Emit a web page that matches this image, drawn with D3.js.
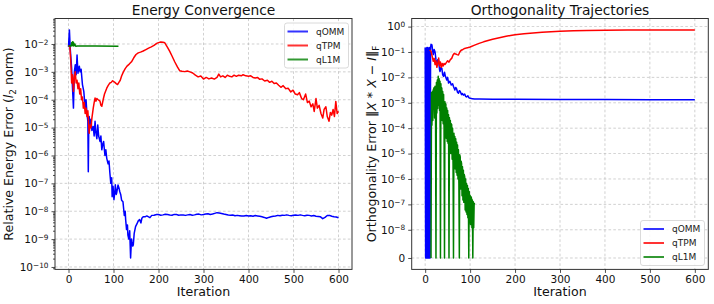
<!DOCTYPE html>
<meta charset="utf-8">
<style>
body { margin: 0; background: #fff; font-family: "DejaVu Sans", sans-serif; }
.grid line { stroke: #b8b8b8; stroke-width: 0.8; stroke-dasharray: 2.6,2.2; opacity: 0.8; }
.axis path { display: none; }
.axis line { stroke: #222; stroke-width: 0.8; }
.axis text { fill: #111; font-size: 10.5px; font-family: "DejaVu Sans"; }
.frame { fill: none; stroke: #333; stroke-width: 1; }
.series { fill: none; stroke-width: 1.5; stroke-linejoin: round; }
.title { font-size: 13.8px; fill: #111; text-anchor: middle; }
.label { font-size: 12.6px; fill: #111; text-anchor: middle; }
.legend text { font-size: 9px; fill: #222; }
</style>
<body>
<svg width="714" height="304"></svg>

<script src="https://d3js.org/d3.v7.min.js"></script>
<script>

// ---- data ----
var iterTicks = [0, 100, 200, 300, 400, 500, 600];
var energyTicks = [1e-10, 1e-9, 1e-8, 1e-7, 1e-6, 1e-5, 1e-4, 1e-3, 1e-2];
var orthoTicks = [0, 1e-8, 1e-7, 1e-6, 1e-5, 1e-4, 1e-3, 1e-2, 1e-1, 1];
var seriesNames = ["qOMM", "qTPM", "qL1M"];
var seriesColors = ["#0000ff", "#ff0000", "#008000"];

// left panel: relative energy error
var energyOMM = [[0,7.9e-3],[2,3.2e-2],[4,6.3e-3],[7,1.35e-3],[9,2.5e-4],[11,5e-5],[13,1e-3],[15,1.8e-3],
  [17,7.9e-4],[19,4e-3],[21,8.9e-4],[24,1.6e-3],[26,1e-3],[28,1.25e-3],[31,3.5e-4],[34,2e-4],[37,5e-5],
  [39,1e-4],[41,3.2e-5],[43,1.7e-5],[44,2.6e-7],[45,1e-5],[46,2.5e-5],[48,1e-5],[50,2e-5],[52,7.9e-6],
  [55,1.1e-5],[57,5e-6],[59,1.7e-5],[61,6.3e-6],[63,4e-6],[65,1.25e-5],[67,5e-6],[70,3.2e-6],[72,5e-6],
  [74,1.6e-6],[76,2.5e-6],[78,3.2e-6],[81,1e-6],[83,1.6e-6],[85,7.9e-7],[88,5e-7],[90,6.3e-7],[92,2.3e-7],
  [94,1e-7],[96,1.6e-7],[97,3.3e-8],[99,7.9e-8],[101,2.6e-8],[103,5e-8],[104,8.9e-8],[106,4e-8],[107,4.5e-8],
  [110,8.7e-8],[112,7e-8],[114,5e-8],[116,4e-8],[118,2.5e-8],[121,2.2e-8],[124,7e-9],[126,1e-8],[127,5e-9],
  [129,2.2e-9],[131,3.2e-9],[132,1.4e-9],[134,1e-9],[136,2e-9],[138,2.1e-10],[140,1e-9],[141,7.9e-10],
  [143,5.6e-10],[144,6.3e-10],[146,1.6e-9],[149,2.8e-9],[152,3.5e-9],[155,4.5e-9],[158,5e-9],[161,3.8e-9],
  [163,5.6e-9],[166,6.3e-9],[170,6.3e-9],[174,6.8e-9],[178,6.3e-9],[181,5.9e-9],[185,7.1e-9],[190,7.2e-9],
  [196,7.6e-9],[200,7.6e-9],[205,7.2e-9],[210,7.4e-9],[215,7.8e-9],[220,7.6e-9],[225,7.3e-9],[230,7.2e-9],
  [235,7.7e-9],[240,7.6e-9],[245,7.2e-9],[250,7.4e-9],[255,7.3e-9],[260,7.1e-9],[265,7.4e-9],[270,7.6e-9],
  [275,7.2e-9],[280,7.4e-9],[285,7.8e-9],[290,7.9e-9],[295,7.4e-9],[300,7.6e-9],[305,7.9e-9],[310,8.1e-9],
  [315,7.6e-9],[320,7.9e-9],[325,8.4e-9],[330,8.9e-9],[335,8.6e-9],[340,8.3e-9],[345,7.9e-9],[350,7.6e-9],
  [355,7.3e-9],[360,7.2e-9],[365,7.3e-9],[370,6.9e-9],[375,7.1e-9],[380,6.9e-9],[385,6.7e-9],[390,6.8e-9],
  [395,7e-9],[400,6.8e-9],[405,6.9e-9],[410,6.6e-9],[415,7e-9],[420,6.8e-9],[425,6.6e-9],[430,6.3e-9],
  [435,6e-9],[440,5.6e-9],[445,6e-9],[450,6.3e-9],[455,6.6e-9],[460,6.8e-9],[465,7.1e-9],[470,6.9e-9],
  [475,7.2e-9],[480,7.1e-9],[485,7.4e-9],[490,7.1e-9],[495,6.9e-9],[500,7.2e-9],[505,7.3e-9],[510,7.1e-9],
  [515,7.4e-9],[520,7.1e-9],[525,6.9e-9],[530,7.2e-9],[535,7.1e-9],[540,6.8e-9],[545,7e-9],[550,6.6e-9],
  [555,6.5e-9],[560,6.3e-9],[565,5.4e-9],[570,6e-9],[575,7e-9],[580,7.1e-9],[585,6.6e-9],[590,6.3e-9],
  [595,6.2e-9],[600,5.8e-9]];

var energyTPM = [[0,8.9e-3],[3,7.9e-3],[5,2.5e-3],[7,4e-4],[9,7.9e-4],[11,2e-4],[13,6.3e-4],[15,1e-3],
  [17,4e-4],[19,5e-4],[21,2.5e-4],[23,4e-4],[25,1.6e-4],[27,2.5e-4],[29,1e-4],[31,1.25e-4],[33,5e-5],
  [35,7.9e-5],[37,3.2e-5],[39,5e-5],[41,2.5e-5],[43,4e-5],[46,6.3e-6],[48,1.25e-5],[50,1e-5],[52,2.2e-5],
  [55,5e-5],[57,7.9e-5],[59,1.15e-4],[61,8.9e-5],[63,1.1e-4],[66,1e-4],[70,8.9e-5],[72,6.3e-5],[74,5.8e-5],
  [77,1e-4],[80,1.6e-4],[85,2.6e-4],[88,3.2e-4],[92,4e-4],[95,4.2e-4],[98,4.8e-4],[103,4.2e-4],[106,3.8e-4],
  [109,3.5e-4],[112,4.2e-4],[115,5e-4],[118,7.1e-4],[122,1e-3],[126,1.3e-3],[130,1.6e-3],[135,1.9e-3],
  [140,2.3e-3],[145,3.2e-3],[150,4.2e-3],[155,4.8e-3],[160,5.1e-3],[166,5.6e-3],[172,6.3e-3],[178,7.1e-3],
  [184,7.9e-3],[190,8.9e-3],[196,1.05e-2],[200,1.12e-2],[205,1.17e-2],[210,1.15e-2],[214,1.1e-2],[220,7.6e-3],
  [225,5.4e-3],[230,3.7e-3],[236,2.3e-3],[242,1.5e-3],[247,1.1e-3],[252,1.05e-3],[258,1.02e-3],[264,1.07e-3],
  [270,1e-3],[276,9.1e-4],[282,7.6e-4],[288,6.6e-4],[294,7.1e-4],[300,5.5e-4],[306,6.3e-4],[312,5.6e-4],
  [318,6e-4],[324,5.5e-4],[330,6.3e-4],[334,8.3e-4],[338,6.6e-4],[343,7.2e-4],[348,6.3e-4],[353,7.6e-4],
  [358,6.9e-4],[363,6.6e-4],[368,7.6e-4],[373,6.9e-4],[378,7.6e-4],[384,7.2e-4],[388,7.9e-4],[394,7.2e-4],
  [400,6.9e-4],[405,7.2e-4],[410,6.3e-4],[415,6e-4],[420,6.3e-4],[425,5.4e-4],[430,5.6e-4],[436,4.7e-4],
  [442,5e-4],[447,4.2e-4],[452,4.6e-4],[457,3.8e-4],[462,4e-4],[467,3.3e-4],[472,2.8e-4],[477,3.2e-4],
  [483,2.5e-4],[488,2.6e-4],[494,1.9e-4],[499,2.2e-4],[504,1.6e-4],[509,1.5e-4],[513,1.8e-4],[518,1.1e-4],
  [522,1e-4],[527,1.6e-4],[531,7.9e-5],[535,8.9e-5],[539,5.6e-5],[543,7.1e-5],[546,3.8e-5],[550,1.1e-4],
  [553,5e-5],[557,6.3e-5],[561,3.2e-5],[565,2.2e-5],[568,4.5e-5],[572,5.6e-5],[575,2.5e-5],[579,1.7e-5],
  [582,3.5e-5],[585,2.8e-5],[588,4.5e-5],[591,2.5e-5],[594,8.7e-5],[597,3.2e-5],[600,3.8e-5]];

var energyL1M = [[0,8.5e-3],[6,8.5e-3],[7,1.1e-2],[8,8.9e-3],[9,1.2e-2],[10,8.7e-3],[11,1.15e-2],[12,8.5e-3],
  [14,1e-2],[16,8.3e-3],[20,8.5e-3],[60,8.4e-3],[111,8.3e-3]];

// right panel: orthogonality error
var orthoOMM = [[0,0.15],[1,0],[2,0.14],[3,0],[4,0.15],[5,0],[6,0.15],[7,0],[8,0.14],[9,0],[10,0.15],[11,0],
  [12,0.15],[13,0.2],[15,0.19],[17,0.1],[18,0.079],[20,0.126],[22,0.1],[24,0.05],[26,0.032],[28,0.05],
  [30,0.045],[32,0.02],[33,0.017],[35,0.025],[37,0.023],[39,0.0126],[41,0.011],[43,0.016],[45,0.011],
  [48,0.0079],[50,0.01],[52,0.006],[55,0.007],[58,0.005],[61,0.0056],[63,0.0044],[66,0.0032],[68,0.004],
  [70,0.0035],[72,0.0026],[74,0.0024],[76,0.003],[78,0.0028],[81,0.0021],[83,0.0023],[85,0.002],[88,0.0022],
  [90,0.0018],[92,0.0017],[95,0.0019],[97,0.0016],[100,0.0015],[105,0.00145],[110,0.0014],[120,0.0014],
  [150,0.00138],[200,0.00138],[300,0.00135],[400,0.00135],[500,0.00132],[600,0.00132]];

var orthoTPM = [[10,0.12],[13,0.107],[16,0.063],[18,0.043],[20,0.056],[22,0.032],[24,0.045],[26,0.025],
  [28,0.035],[30,0.058],[32,0.028],[34,0.04],[36,0.025],[38,0.035],[40,0.028],[42,0.035],[44,0.032],
  [47,0.038],[50,0.045],[53,0.04],[56,0.05],[59,0.056],[62,0.076],[65,0.089],[68,0.083],[71,0.079],
  [74,0.076],[77,0.1],[80,0.117],[84,0.126],[88,0.138],[92,0.145],[96,0.15],[100,0.158],[110,0.186],
  [120,0.219],[130,0.251],[140,0.282],[150,0.316],[160,0.347],[170,0.38],[180,0.417],[190,0.447],
  [200,0.479],[220,0.525],[240,0.562],[260,0.603],[280,0.631],[300,0.661],[330,0.692],[360,0.708],
  [400,0.724],[450,0.741],[500,0.741],[550,0.741],[600,0.741]];

var orthoL1M = [[13,0],[14,2.5e-3],[15,1.3e-4],[16,2.8e-3],[17,2e-4],[18,3.2e-3],[20,4e-3],[21,2.5e-4],
  [22,4.5e-3],[23,1e-3],[24,0],[25,6.3e-3],[26,4e-4],[27,7.9e-3],[28,6e-4],[29,1.1e-2],[30,8e-4],
  [31,8.9e-3],[32,5e-4],[33,7.1e-3],[34,0],[35,5.6e-3],[36,2.5e-4],[37,3.8e-3],[38,2e-4],[39,2.8e-3],
  [40,1.5e-4],[41,2.1e-3],[42,1e-4],[43,0],[44,1.1e-3],[45,6e-5],[46,8.9e-4],[47,4e-5],[48,6.3e-4],
  [49,3e-5],[50,5e-4],[51,2.5e-5],[52,3.4e-4],[53,0],[54,2.6e-4],[55,1.3e-5],[56,2e-4],[57,1e-5],
  [58,1.5e-4],[59,1.35e-4],[60,6e-6],[61,1e-4],[62,4e-6],[63,0],[64,6.3e-5],[65,3e-6],[66,4.7e-5],
  [67,2.5e-6],[68,3.8e-5],[69,1.8e-6],[70,2.8e-5],[71,1.4e-6],[72,2.2e-5],[73,1e-6],[74,1.4e-5],
  [75,7e-7],[76,0],[77,8.9e-6],[78,7.4e-6],[79,4e-7],[80,5e-6],[81,4e-6],[82,2.2e-7],[83,3e-6],
  [84,1.5e-7],[85,2.2e-6],[86,1.2e-7],[87,1.5e-6],[88,1.2e-6],[89,6e-8],[90,1e-6],[91,5e-8],[92,6.6e-7],
  [93,4e-8],[94,5.6e-7],[95,3e-8],[96,4.2e-7],[97,0],[98,3.2e-7],[99,2e-8],[100,2.3e-7],[101,1.6e-8],
  [102,2e-7],[103,1.8e-7],[104,1.2e-8],[105,1.5e-7],[106,0],[107,1.26e-7],[108,1.2e-8],[109,1.1e-7],
  [110,1e-7]];

var energySeries = [energyOMM, energyTPM, energyL1M];
var orthoSeries = [orthoOMM, orthoTPM, orthoL1M];

// ---- layout ----
var svg = d3.select("svg");
var plotTop = 18.5, plotBottom = 269.4;
var left = {x0: 55, x1: 352}, right = {x0: 411.7, x1: 708.3};

// matplotlib-like symlog (linthresh 1e-8, linscale 1), in "decade" units
var linthresh = 1e-8, linscaleAdj = 1 / (1 - 1 / 10);
function symlog(v) {
    var a = Math.abs(v);
    var t = a <= linthresh ? a / linthresh * linscaleAdj : linscaleAdj + Math.log10(a / linthresh);
    return v < 0 ? -t : t;
}

function padExtent(e, p) {
    if (p === undefined) p = 0.05;
    var d = (e[1] - e[0]) * p;
    return [e[0] - d, e[1] + d];
}

var allIters = energySeries.concat(orthoSeries).flat().map(function (d) { return d[0]; });
var xDomain = padExtent(d3.extent(allIters));

var xL = d3.scaleLinear().domain(xDomain).range([left.x0, left.x1]);
var xR = d3.scaleLinear().domain(xDomain).range([right.x0, right.x1]);

var eLog = padExtent(d3.extent(energySeries.flat(), function (d) { return Math.log10(d[1]); }));
var yL = d3.scaleLog().domain([Math.pow(10, eLog[0]), Math.pow(10, eLog[1])]).range([plotBottom, plotTop]);

var oSym = padExtent(d3.extent(orthoSeries.flat(), function (d) { return symlog(d[1]); }));
var yRlin = d3.scaleLinear().domain(oSym).range([plotBottom, plotTop]);
function yR(v) { return yRlin(symlog(v)); }

function expLabel(sel, v) {
    sel.text(null);
    if (v === 0) { sel.text("0"); return; }
    var e = Math.round(Math.log10(v));
    sel.append("tspan").text("10");
    sel.append("tspan").attr("dy", "-0.45em").style("font-size", "7.35px")
        .text(e < 0 ? "\u2212" + Math.abs(e) : String(e));
}

function drawPanel(p, x, yFn, yTicks, series, id) {
    var g = svg.append("g");

    // clip
    svg.append("clipPath").attr("id", id)
        .append("rect").attr("x", p.x0).attr("y", plotTop)
        .attr("width", p.x1 - p.x0).attr("height", plotBottom - plotTop);

    // grid
    var grid = g.append("g").attr("class", "grid");
    grid.selectAll(".gx").data(iterTicks).enter().append("line")
        .attr("x1", function (d) { return x(d); }).attr("x2", function (d) { return x(d); })
        .attr("y1", plotTop).attr("y2", plotBottom);
    grid.selectAll(".gy").data(yTicks).enter().append("line")
        .attr("x1", p.x0).attr("x2", p.x1)
        .attr("y1", function (d) { return yFn(d); }).attr("y2", function (d) { return yFn(d); });

    // lines
    var lines = g.append("g").attr("clip-path", "url(#" + id + ")");
    series.forEach(function (s, i) {
        lines.append("path")
            .datum(s)
            .attr("class", "series")
            .attr("stroke", seriesColors[i])
            .attr("d", d3.line().x(function (d) { return x(d[0]); }).y(function (d) { return yFn(d[1]); }));
    });

    // frame
    g.append("rect").attr("class", "frame")
        .attr("x", p.x0).attr("y", plotTop)
        .attr("width", p.x1 - p.x0).attr("height", plotBottom - plotTop);

    // x axis
    g.append("g").attr("class", "axis")
        .attr("transform", "translate(0," + plotBottom + ")")
        .call(d3.axisBottom(x).tickValues(iterTicks).tickSize(3.5).tickPadding(2.5));

    return g;
}

// left panel
var gL = drawPanel(left, xL, yL, energyTicks, energySeries, "clipL");

// minor log ticks
var minor = [];
for (var e = -11; e <= -1; e++) for (var k = 2; k <= 9; k++) {
    var v = k * Math.pow(10, e);
    if (v > yL.domain()[0] && v < yL.domain()[1]) minor.push(v);
}
gL.append("g").attr("class", "axis")
    .attr("transform", "translate(" + left.x0 + ",0)")
    .call(d3.axisLeft(yL).tickValues(minor).tickSize(2).tickFormat(""));

gL.append("g").attr("class", "axis")
    .attr("transform", "translate(" + left.x0 + ",0)")
    .call(d3.axisLeft(yL).tickValues(energyTicks).tickSize(3.5).tickPadding(3))
    .selectAll(".tick text").each(function (d) { expLabel(d3.select(this), d); });

// right panel
var gR = drawPanel(right, xR, yR, orthoTicks, orthoSeries, "clipR");
var yRaxis = d3.scaleLinear().domain(orthoTicks.map(symlog)).range(orthoTicks.map(yR));
gR.append("g").attr("class", "axis")
    .attr("transform", "translate(" + right.x0 + ",0)")
    .call(d3.axisLeft(yRlin).tickValues(orthoTicks.map(symlog)).tickSize(3.5).tickPadding(3))
    .selectAll(".tick text").each(function (d, i) { expLabel(d3.select(this), orthoTicks[i]); });

// titles and axis labels
svg.append("text").attr("class", "title").attr("x", (left.x0 + left.x1) / 2).attr("y", 15)
    .text("Energy Convergence");
svg.append("text").attr("class", "title").attr("x", (right.x0 + right.x1) / 2).attr("y", 15)
    .text("Orthogonality Trajectories");
svg.append("text").attr("class", "label").attr("x", (left.x0 + left.x1) / 2).attr("y", 296)
    .text("Iteration");
svg.append("text").attr("class", "label").attr("x", (right.x0 + right.x1) / 2).attr("y", 296)
    .text("Iteration");

var midY = (plotTop + plotBottom) / 2;
var yl = svg.append("text").attr("class", "label")
    .attr("transform", "translate(12.5," + midY + ") rotate(-90)");
yl.append("tspan").text("Relative Energy Error (");
yl.append("tspan").style("font-style", "italic").text("l");
yl.append("tspan").attr("dy", 3).style("font-size", "8.8px").text("2");
yl.append("tspan").attr("dy", -3).text(" norm)");

var yr = svg.append("text").attr("class", "label")
    .attr("transform", "translate(375.5," + midY + ") rotate(-90)");
yr.append("tspan").text("Orthogonality Error \u2016");
yr.append("tspan").style("font-style", "italic").text("X");
yr.append("tspan").text(" * ");
yr.append("tspan").style("font-style", "italic").text("X");
yr.append("tspan").text(" \u2212 ");
yr.append("tspan").style("font-style", "italic").text("I");
yr.append("tspan").text("\u2016");
yr.append("tspan").attr("dy", 3).style("font-size", "8.8px").text("F");

// legends
function legend(bx, by) {
    var lg = svg.append("g").attr("class", "legend").attr("transform", "translate(" + bx + "," + by + ")");
    lg.append("rect").attr("width", 64).attr("height", 45).attr("rx", 2.5)
        .attr("fill", "#fff").attr("fill-opacity", 0.85).attr("stroke", "#d0d0d0").attr("stroke-width", 0.8);
    seriesNames.forEach(function (n, i) {
        var yy = 8.5 + i * 14;
        lg.append("line").attr("x1", 3).attr("x2", 23.5).attr("y1", yy).attr("y2", yy)
            .attr("stroke", seriesColors[i]).attr("stroke-width", 2).attr("stroke-opacity", 0.8);
        lg.append("text").attr("x", 31.5).attr("y", yy + 3.2).text(n);
    });
}
legend(284.5, 23);
legend(640.5, 220.5);

</script>
</body>
